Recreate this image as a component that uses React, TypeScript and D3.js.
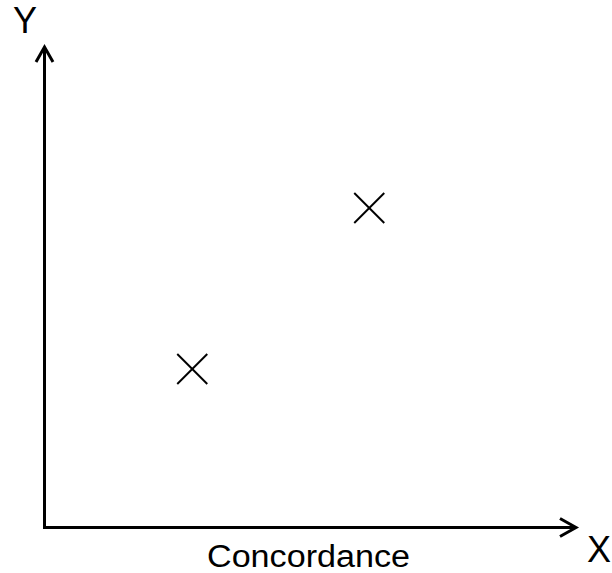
import React from "react";
import * as d3 from "d3";

const pointNames = ["A", "B"];
const xValues = [2.78, 6.11];
const yValues = [3.3, 6.65];
const xAxisLabel = "Concordance";
const xEndLabel = "X";
const yEndLabel = "Y";

export default function App() {
  const W = 612;
  const H = 573;
  const x = d3.scaleLinear().domain([0, 10]).range([44.5, 576]);
  const y = d3.scaleLinear().domain([0, 10]).range([527.5, 47]);
  const x0 = x(0);
  const y0 = y(0);
  const xEnd = x(10);
  const yEnd = y(10);
  const m = 15;
  const font = "Arial, 'Liberation Sans', sans-serif";
  return (
    <svg width={W} height={H} style={{ position: "absolute", left: 0, top: 0, background: "#fff" }}>
      <rect width={W} height={H} fill="#fff" />
      <line x1={x0} y1={y0} x2={x0} y2={yEnd + 1} stroke="#000" strokeWidth={3} />
      <line x1={x0 - 1.5} y1={y0} x2={xEnd - 1} y2={y0} stroke="#000" strokeWidth={3} />
      <polyline
        points={`${x0 - 8.5},${yEnd + 15} ${x0},${yEnd} ${x0 + 8.5},${yEnd + 15}`}
        fill="none"
        stroke="#000"
        strokeWidth={3}
        strokeLinejoin="miter"
      />
      <polyline
        points={`${xEnd - 16},${y0 - 9} ${xEnd},${y0} ${xEnd - 16},${y0 + 9}`}
        fill="none"
        stroke="#000"
        strokeWidth={3}
        strokeLinejoin="miter"
      />
      {pointNames.map((n, i) => {
        const cx = x(xValues[i]);
        const cy = y(yValues[i]);
        return (
          <g key={n} stroke="#000" strokeWidth={2}>
            <line x1={cx - m} y1={cy - m} x2={cx + m} y2={cy + m} />
            <line x1={cx - m} y1={cy + m} x2={cx + m} y2={cy - m} />
          </g>
        );
      })}
      <text x={25} y={33} fontSize={36} fontFamily={font} textAnchor="middle" fill="#000">
        {yEndLabel}
      </text>
      <text x={599} y={562} fontSize={36} fontFamily={font} textAnchor="middle" fill="#000">
        {xEndLabel}
      </text>
      <text x={207} y={567} fontSize={31} fontFamily={font} fill="#000" textLength={203} lengthAdjust="spacingAndGlyphs">
        {xAxisLabel}
      </text>
    </svg>
  );
}
